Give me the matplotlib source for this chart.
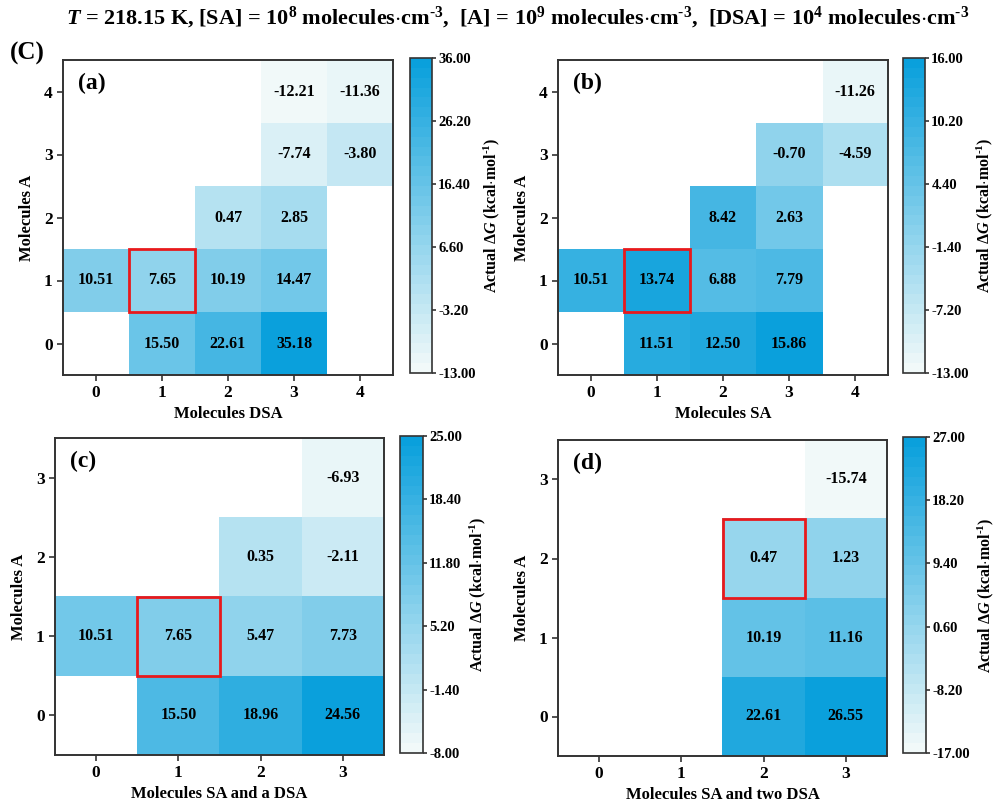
import numpy as np
import matplotlib
matplotlib.use("Agg")
import matplotlib.pyplot as plt
from matplotlib.colors import LinearSegmentedColormap
from matplotlib.patches import Rectangle

plt.rcParams['font.family'] = ['Liberation Serif', 'DejaVu Serif']
plt.rcParams['font.weight'] = 'bold'
plt.rcParams['mathtext.fontset'] = 'custom'
plt.rcParams['mathtext.rm'] = 'Liberation Serif:bold'
plt.rcParams['mathtext.bf'] = 'Liberation Serif:bold'
plt.rcParams['mathtext.it'] = 'Liberation Serif:bold:italic'

nan = np.nan
# rows: Molecules A = 0..N (bottom to top); cols: x molecules 0..N
grid_a = [
    [nan, 15.50, 22.61, 35.18, nan],
    [10.51, 7.65, 10.19, 14.47, nan],
    [nan, nan, 0.47, 2.85, nan],
    [nan, nan, nan, -7.74, -3.80],
    [nan, nan, nan, -12.21, -11.36],
]
grid_b = [
    [nan, 11.51, 12.50, 15.86, nan],
    [10.51, 13.74, 6.88, 7.79, nan],
    [nan, nan, 8.42, 2.63, nan],
    [nan, nan, nan, -0.70, -4.59],
    [nan, nan, nan, nan, -11.26],
]
grid_c = [
    [nan, 15.50, 18.96, 24.56],
    [10.51, 7.65, 5.47, 7.73],
    [nan, nan, 0.35, -2.11],
    [nan, nan, nan, -6.93],
]
grid_d = [
    [nan, nan, 22.61, 26.55],
    [nan, nan, 10.19, 11.16],
    [nan, nan, 0.47, 1.23],
    [nan, nan, nan, -15.74],
]
ranges = [(-13.0, 36.0), (-13.0, 16.0), (-8.0, 25.0), (-17.0, 27.0)]
xlabels = ["Molecules DSA", "Molecules SA", "Molecules SA and a DSA", "Molecules SA and two DSA"]
panel_tags = ["(a)", "(b)", "(c)", "(d)"]
highlights = [(1, 1), (1, 1), (1, 1), (2, 2)]
grids = [grid_a, grid_b, grid_c, grid_d]

cmap = LinearSegmentedColormap.from_list("bl", ["#f1f9f9", "#0aa0dc"], N=32)

W, H = 994, 801
fig = plt.figure(figsize=(W / 100, H / 100), dpi=100)

def box(l, t, r, b):
    return [l / W, 1 - b / H, (r - l) / W, (b - t) / H]

ax_boxes = [box(63, 60, 393, 375), box(558, 60, 888, 375),
            box(55, 438, 384, 755), box(558, 440, 887, 756)]
cb_boxes = [box(410, 58, 432, 373), box(903, 58, 925, 373),
            box(400, 436, 423, 753), box(903, 437, 926, 753)]

HY = "\u2010"
spine_c = "#333333"
for i in range(4):
    data = np.ma.masked_invalid(np.array(grids[i], dtype=float))
    n = data.shape[0]
    ax = fig.add_axes(ax_boxes[i])
    vmin, vmax = ranges[i]
    im = ax.imshow(data, origin='lower', aspect='auto', cmap=cmap, vmin=vmin, vmax=vmax,
                   extent=(-0.5, n - 0.5, -0.5, n - 0.5), interpolation='nearest')
    for r in range(n):
        for c in range(n):
            v = grids[i][r][c]
            if not np.isnan(v):
                ax.text(c, r, f"{v:.2f}", ha='center', va='center', fontsize=11.5,
                        fontweight='bold', color='black')
    hx, hy = highlights[i]
    ax.add_patch(Rectangle((hx - 0.5, hy - 0.5), 1, 1, fill=False, edgecolor='#e8191c', lw=2, zorder=5))
    ax.set_xticks(range(n))
    ax.set_yticks(range(n))
    ax.tick_params(labelsize=12.5, length=4, width=1.2, color=spine_c)
    for lab in ax.get_xticklabels() + ax.get_yticklabels():
        lab.set_fontweight('bold')
    for s in ax.spines.values():
        s.set_color(spine_c)
        s.set_linewidth(1.4)
    ax.set_xlabel(xlabels[i], fontsize=12, fontweight='bold', labelpad=3)
    ax.set_ylabel("Molecules A", fontsize=12, fontweight='bold', labelpad=6)
    ax.text(0.045, 0.96, panel_tags[i], transform=ax.transAxes, ha='left', va='top',
            fontsize=17, fontweight='bold')

    cax = fig.add_axes(cb_boxes[i])
    cb = fig.colorbar(im, cax=cax)
    ticks = np.linspace(vmin, vmax, 6)
    cb.set_ticks(ticks)
    cb.set_ticklabels([f"{t:.2f}" for t in ticks])
    cb.ax.tick_params(labelsize=10.5, length=3, width=1.2, color=spine_c, pad=1.5)
    for lab in cb.ax.get_yticklabels():
        lab.set_fontweight('bold')
    cb.outline.set_edgecolor(spine_c)
    cb.outline.set_linewidth(1.2)
    cb.set_label("Actual $\\Delta$$\\it{G}$ (kcal$\\cdot$mol$^{" + HY + "1}$)",
                 fontsize=11.5, fontweight='bold', labelpad=4)

sup3 = "$^{" + HY + "3}$"
fig.text(518 / W, 1 - 18 / H,
         "$T$ = 218.15 K, [SA] = 10$^{8}$ molecules$\\cdot$cm" + sup3 +
         ",  [A] = 10$^{9}$ molecules$\\cdot$cm" + sup3 +
         ",  [DSA] = 10$^{4}$ molecules$\\cdot$cm" + sup3,
         ha='center', va='center', fontsize=16, fontweight='bold')
fig.text(10 / W, 1 - 53 / H, "(C)", ha='left', va='center', fontsize=18, fontweight='bold')

fig.savefig("out.png", dpi=100)
